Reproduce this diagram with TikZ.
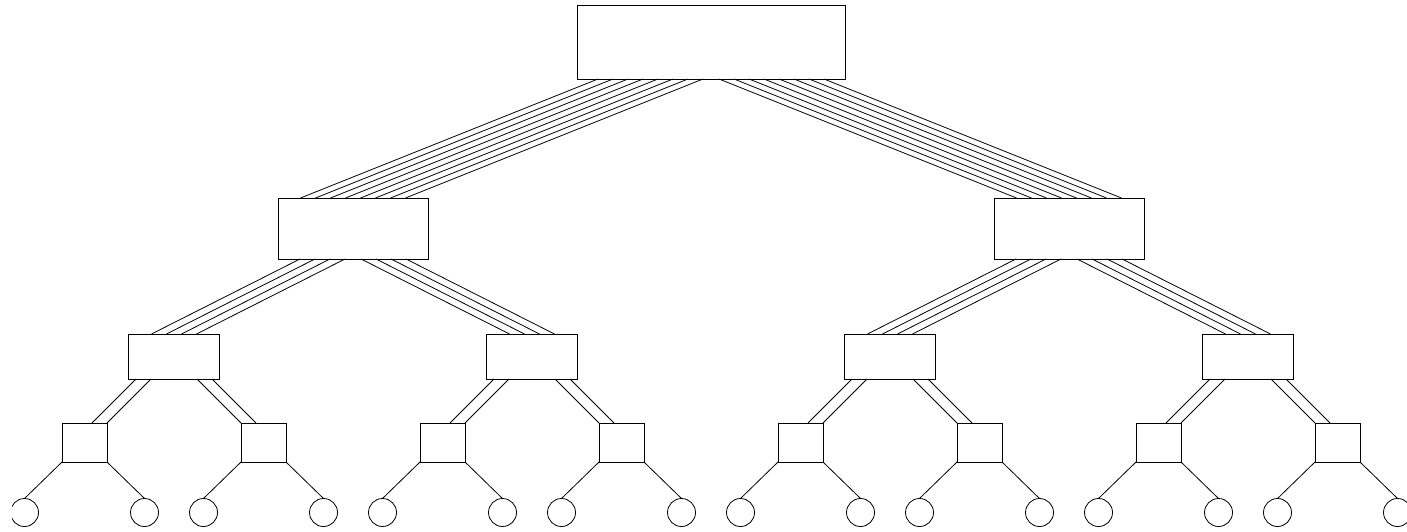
\documentclass[tikz,border=0pt]{standalone}
\usetikzlibrary{calc}
\begin{document}
\begin{tikzpicture}[x=1pt,y=-1pt,
  box/.style={draw=black, line width=0.8pt, rectangle, inner sep=0pt, outer sep=0pt},
  topbox/.style={box, minimum width=268pt, minimum height=74pt},
  aggbox/.style={box, minimum width=150pt, minimum height=61pt},
  edgebox/.style={box, minimum width=91pt, minimum height=45pt},
  torbox/.style={box, minimum width=45pt, minimum height=39pt},
  leaf/.style={draw=black, line width=0.8pt, circle, inner sep=0pt, outer sep=0pt, minimum size=28pt},
  link/.style={draw=black, line width=0.8pt}]
\useasboundingbox (0,0) rectangle (1407,532);
\begin{scope}
\clip (12,-10) rectangle (1407,545);
% nodes
\node[topbox] (T) at (711,42) {};
\node[aggbox] (A1) at (353,228.5) {};
\node[aggbox] (A2) at (1069,228.5) {};
\foreach \i in {1,...,4} {
  \node[edgebox] (B\i) at ({174+358*(\i-1)},356.5) {};
}
\foreach \i in {1,...,8} {
  \node[torbox] (C\i) at ({84.5+179*(\i-1)},442.5) {};
  \pgfmathtruncatemacro\l{2*\i-1}
  \pgfmathtruncatemacro\r{2*\i}
  \node[leaf] (D\l) at ({84.5+179*(\i-1)-60},512.5) {};
  \node[leaf] (D\r) at ({84.5+179*(\i-1)+60},512.5) {};
}
% top -> level 2
\foreach \j in {0,...,7} {
  \draw[link] ($(T.south)+(-113+15*\j,0)$) -- ($(A1.north)+(-52.5+15*\j,0)$);
  \draw[link] ($(T.south)+(8+15*\j,0)$) -- ($(A2.north)+(-52.5+15*\j,0)$);
}
% level 2 -> level 3
\foreach \p in {1,2} {
  \pgfmathtruncatemacro\l{2*\p-1}
  \pgfmathtruncatemacro\r{2*\p}
  \foreach \j in {0,...,3} {
    \draw[link] ($(A\p.south)+(-53+15*\j,0)$) -- ($(B\l.north)+(-22.5+15*\j,0)$);
    \draw[link] ($(A\p.south)+(8+15*\j,0)$) -- ($(B\r.north)+(-22.5+15*\j,0)$);
  }
}
% level 3 -> level 4
\foreach \q in {1,...,4} {
  \pgfmathtruncatemacro\l{2*\q-1}
  \pgfmathtruncatemacro\r{2*\q}
  \foreach \j in {0,1} {
    \draw[link] ($(B\q.south)+(-38+15*\j,0)$) -- ($(C\l.north)+(7.5+15*\j,0)$);
    \draw[link] ($(B\q.south)+(23+15*\j,0)$) -- ($(C\r.north)+(-22.5+15*\j,0)$);
  }
}
% level 4 -> leaves
\foreach \k in {1,...,8} {
  \pgfmathtruncatemacro\l{2*\k-1}
  \pgfmathtruncatemacro\r{2*\k}
  \draw[link] (C\k.south west) -- (D\l.north);
  \draw[link] (C\k.south east) -- (D\r.north);
}
\end{scope}
\end{tikzpicture}
\end{document}
